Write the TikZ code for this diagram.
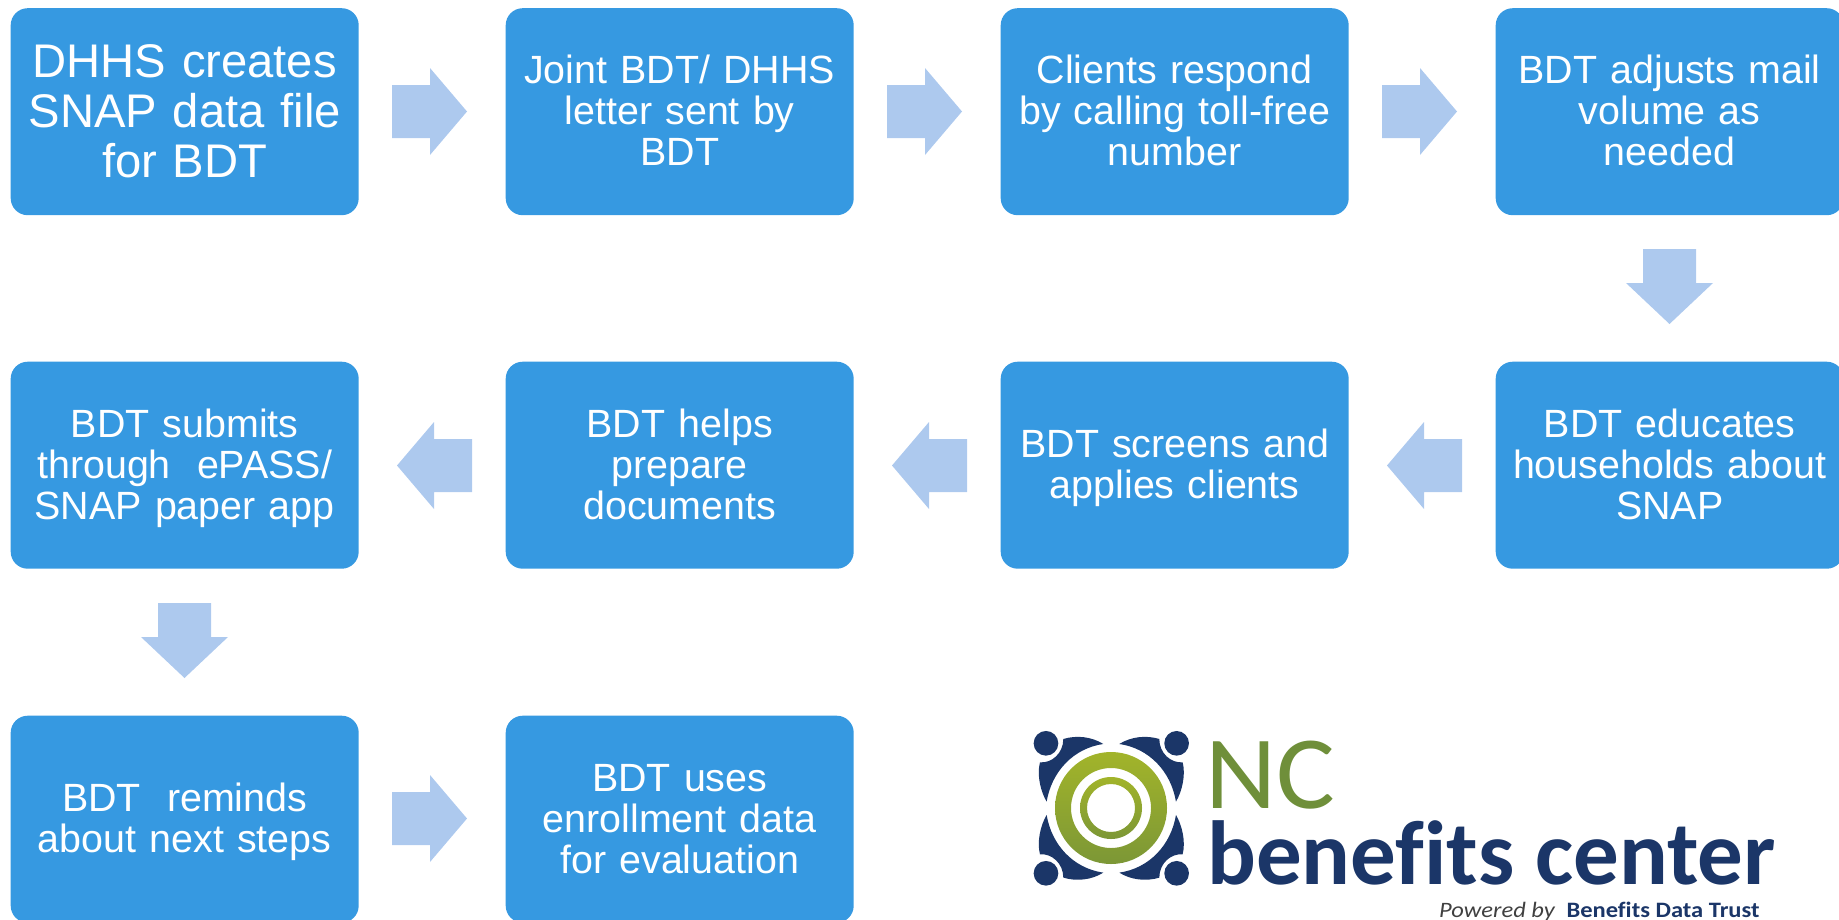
\documentclass[tikz,border=0pt]{standalone}
\usepackage{fontspec}
\setmainfont{Liberation Sans}
\newfontfamily\logofont[Ligatures=NoCommon]{Carlito}
\usetikzlibrary{calc}
\definecolor{boxblue}{HTML}{3699E1}
\definecolor{arrowblue}{HTML}{ADC9EE}
\definecolor{logonavy}{HTML}{1B3668}
\definecolor{logolight}{HTML}{A2B42A}
\definecolor{logodark}{HTML}{7C9736}
\definecolor{logotext}{HTML}{6F8F3A}
\tikzset{x=1pt,y=-1pt,
 stepbox/.style={draw=none,fill=boxblue,rounded corners=17pt,minimum width=348pt,minimum height=207pt,anchor=north west,text=white,align=center,inner sep=0pt,text width=344pt,font=\fontsize{39.4}{41}\selectfont,execute at begin node={\rule{0pt}{0.88em}},execute at end node={\rule[-0.22em]{0pt}{0pt}}},
 bigbox/.style={stepbox,font=\fontsize{47.2}{50}\selectfont},
 flow/.style={fill=arrowblue,draw=none},
 ringfill/.style={top color=logolight,bottom color=logodark,even odd rule}}
\newcommand{\arrowright}[2]{\fill[flow] (#1,#2+17) -- ++(38,0) -- ++(0,-17) -- ++(37,43.5) -- ++(-37,43.5) -- ++(0,-17) -- ++(-38,0) -- cycle;}
\newcommand{\arrowleft}[2]{\fill[flow] (#1+75,#2+17) -- ++(-38,0) -- ++(0,-17) -- ++(-37,43.5) -- ++(37,43.5) -- ++(0,-17) -- ++(38,0) -- cycle;}
\newcommand{\arrowdown}[2]{\fill[flow] (#1+17,#2) -- ++(0,34) -- ++(-17,0) -- ++(43.5,41) -- ++(43.5,-41) -- ++(-17,0) -- ++(0,-34) -- cycle;}
\begin{document}
\begin{tikzpicture}
\useasboundingbox (0,0) rectangle (1839,919);
\node[bigbox] (a1) at (10.5,8) {DHHS creates\\SNAP data file\\for BDT};
\node[stepbox] (a2) at (505.5,8) {Joint BDT/ DHHS\\letter sent by\\BDT};
\node[stepbox] (a3) at (1000.5,8) {Clients respond\\by calling toll-free\\number};
\node[stepbox] (a4) at (1495.5,8) {BDT adjusts mail\\volume as\\needed};
\node[stepbox] (b4) at (1495.5,361.5) {BDT educates\\households about\\SNAP};
\node[stepbox] (b3) at (1000.5,361.5) {BDT screens and\\applies clients};
\node[stepbox] (b2) at (505.5,361.5) {BDT helps\\prepare\\documents};
\node[stepbox] (b1) at (10.5,361.5) {BDT submits\\through\ \ ePASS/\\SNAP paper app};
\node[stepbox] (c1) at (10.5,715.5) {BDT\ \ reminds\\about next steps};
\node[stepbox] (c2) at (505.5,715.5) {BDT uses\\enrollment data\\for evaluation};
\arrowright{392}{68}
\arrowright{887}{68}
\arrowright{1382}{68}
\arrowdown{1626}{249}
\arrowleft{1387}{422}
\arrowleft{892}{422}
\arrowleft{397}{422}
\arrowdown{141}{603}
\arrowright{392}{775}
% logo
\foreach \sx/\sy in {1/1,-1/1,1/-1,-1/-1}{
\begin{scope}[shift={(1111.3,808.3)},x=0.3333pt,y=-0.3333pt,xscale=\sx,yscale=\sy]
\fill[logonavy] (-196,-195) circle (37);
\fill[logonavy] (-24,-193) .. controls (-114,-180) and (-179,-110) .. (-194,-20) .. controls (-212,-50) and (-224,-100) .. (-214,-138) .. controls (-179,-135) and (-144,-165) .. (-144,-208) .. controls (-104,-220) and (-59,-215) .. (-24,-193) -- cycle;
\end{scope}
}
\path[ringfill] (1111,808) circle (56) (1111,808) circle (40);
\path[ringfill] (1111,808) circle (31) (1111,808) circle (24);
\node[anchor=base west,inner sep=0pt,text=logotext,xscale=1.06,transform shape,font=\logofont\fontsize{104}{104}\selectfont] (nc) at (1205,808) {NC};
\node[anchor=base west,inner sep=0pt,text=logonavy,font=\logofont\bfseries\fontsize{91}{91}\selectfont] (bc) at (1207,884) {benefits center};
\node[anchor=base west,inner sep=0pt,text=black!75,xscale=1.115,transform shape,font=\logofont\fontsize{22}{22}\selectfont] (pw) at (1439,917) {\textit{Powered by}\ \ \textcolor{logonavy}{\textbf{Benefits Data Trust}}};
\end{tikzpicture}
\end{document}
